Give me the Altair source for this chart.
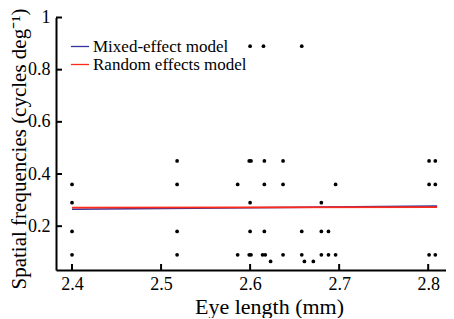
import altair as alt
import pandas as pd

# scatter data (eye length mm, spatial frequency cycles/deg)
pt_x = [2.518, 2.599, 2.601, 2.616, 2.637, 2.801, 2.808,
        2.400, 2.518, 2.586, 2.616, 2.637, 2.696, 2.801, 2.808,
        2.400, 2.600, 2.680,
        2.400, 2.518, 2.600, 2.616, 2.658, 2.680, 2.688,
        2.400, 2.518, 2.586, 2.599, 2.601, 2.614, 2.617, 2.637, 2.658, 2.680, 2.688, 2.696, 2.801, 2.808,
        2.623, 2.661, 2.671,
        2.600, 2.615, 2.658]
pt_y = [0.45] * 7 + [0.36] * 8 + [0.29] * 3 + [0.18] * 7 + [0.09] * 14 + [0.065] * 3 + [0.89] * 3

# model fits
line_x = [2.40, 2.81]
mixed_y = [0.265, 0.277]
random_y = [0.271, 0.273]
models = ["Mixed-effect model", "Random effects model"]
model_colors = ["#33339a", "#ff2a1a"]

x_ticks = [2.4, 2.5, 2.6, 2.7, 2.8]
y_ticks = [0.2, 0.4, 0.6, 0.8, 1.0]

W, H = 390, 252.5
FONT = "Liberation Serif"

pts = pd.DataFrame({"x": pt_x, "y": pt_y})
lines = pd.DataFrame({
    "x": line_x + line_x,
    "y": mixed_y + random_y,
    "model": [models[0]] * 2 + [models[1]] * 2,
    "order": [0, 0, 1, 1],
})

xs = alt.Scale(domain=[2.382, 2.820], nice=False, zero=False)
ys = alt.Scale(domain=[0.032, 1.0], nice=False, zero=False)

common = dict(labelFont=FONT, titleFont=FONT, labelColor="black", titleColor="black",
              titleFontWeight="normal", labelFontSize=18, ticks=False,
              domainWidth=2, domainColor="black", grid=False)

xaxis = alt.Axis(values=x_ticks, format=".1f", title="Eye length (mm)",
                 titleFontSize=22, labelPadding=5,
                 titleX=213, titleY=43, titleBaseline="alphabetic", **common)
yaxis = alt.Axis(values=y_ticks, format="~g", title="Spatial frequencies (cycles deg\u207b\u00b9)",
                 titleFontSize=21, labelPadding=6,
                 titleX=-48, titleY=131, titleBaseline="top", titleAlign="center",
                 **common)

scatter = alt.Chart(pts).mark_circle(size=14, color="black", opacity=1).encode(
    x=alt.X("x:Q", scale=xs, axis=xaxis),
    y=alt.Y("y:Q", scale=ys, axis=yaxis),
)

fit = alt.Chart(lines).mark_line(strokeWidth=1.6).encode(
    x=alt.X("x:Q", scale=xs, axis=xaxis),
    y=alt.Y("y:Q", scale=ys, axis=yaxis),
    color=alt.Color("model:N", scale=alt.Scale(domain=models, range=model_colors),
                    legend=alt.Legend(title=None, orient="none", legendX=14, legendY=19,
                                      symbolType="stroke", symbolSize=330, symbolStrokeWidth=1.3,
                                      labelFontSize=17, labelFont=FONT, labelColor="black",
                                      rowPadding=-2, labelOffset=3)),
    order="order:Q",
)

xt = alt.Chart(pd.DataFrame({"x": x_ticks})).mark_rule(color="black", strokeWidth=2).encode(
    x=alt.X("x:Q", scale=xs, axis=xaxis), y=alt.value(H), y2=alt.value(H - 6))
yt = alt.Chart(pd.DataFrame({"y": y_ticks})).mark_rule(color="black", strokeWidth=2).encode(
    y=alt.Y("y:Q", scale=ys, axis=yaxis), x=alt.value(0), x2=alt.value(6))

chart = alt.layer(scatter, fit, xt, yt).properties(
    width=W, height=H,
    background="white",
    autosize=alt.AutoSizeParams(type="none"),
    padding={"left": 48, "top": 9.5, "right": 0, "bottom": 48},
).configure_view(stroke=None).configure_axis(
    grid=False, labelFont=FONT, titleFont=FONT, labelColor="black", titleColor="black",
    titleFontWeight="normal",
)

chart.save("out.html", embed_options={"renderer": "svg", "actions": False})
